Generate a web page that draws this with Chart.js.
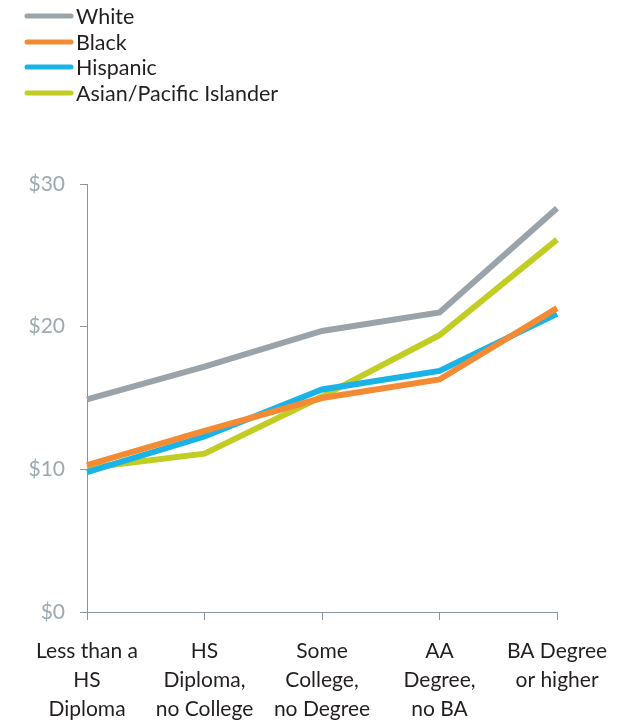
<!DOCTYPE html>
<html>
<head>
<meta charset="utf-8">
<script src="https://cdn.jsdelivr.net/npm/chart.js@4"></script>
<style>
  html, body { margin: 0; padding: 0; background: #ffffff; }
  #wrap { width: 630px; height: 720px; position: relative; }
</style>
</head>
<body>
<div id="wrap"><canvas id="chart" width="630" height="720"></canvas></div>
<script>
// Median hourly wage by education level and race/ethnicity
const categories = [
  ['Less than a', 'HS', 'Diploma'],
  ['HS', 'Diploma,', 'no College'],
  ['Some', 'College,', 'no Degree'],
  ['AA', 'Degree,', 'no BA'],
  ['BA Degree', 'or higher']
];
const seriesNames = ['White', 'Black', 'Hispanic', 'Asian/Pacific Islander'];
const white    = [14.9, 17.2, 19.7, 21.0, 28.3];
const black    = [10.3, 12.7, 15.0, 16.3, 21.3];
const hispanic = [9.8, 12.3, 15.6, 16.9, 20.9];
const asian    = [10.1, 11.1, 15.1, 19.4, 26.1];
const yTicks = [0, 10, 20, 30];

const colors = ['#9aa3aa', '#f58a34', '#1ab3e8', '#c2cd23'];
const FONT = 'Lato, "Open Sans", sans-serif';

const seriesValues = [white, black, hispanic, asian];
const datasets = seriesNames.map((name, i) => ({
  label: name,
  data: seriesValues[i],
  borderColor: colors[i],
  backgroundColor: colors[i],
  borderWidth: 6,
  pointRadius: 0,
  pointHoverRadius: 0,
  tension: 0,
  fill: false
}));

// Stacked legend in the top-left corner: one row per series
const stackedLegend = {
  id: 'stackedLegend',
  afterDraw(chart) {
    const ctx = chart.ctx;
    const rows = [16, 42, 67, 93];
    ctx.save();
    chart.data.datasets.forEach((ds, i) => {
      const y = rows[i];
      ctx.beginPath();
      ctx.strokeStyle = ds.borderColor;
      ctx.lineWidth = 5;
      ctx.lineCap = 'round';
      ctx.moveTo(27, y);
      ctx.lineTo(71, y);
      ctx.stroke();
      ctx.fillStyle = '#231f20';
      ctx.font = '21.5px ' + FONT;
      ctx.textBaseline = 'middle';
      ctx.textAlign = 'left';
      ctx.fillText(ds.label, 76, y + 1);
    });
    ctx.restore();
  }
};

new Chart(document.getElementById('chart'), {
  type: 'line',
  data: { labels: categories, datasets },
  plugins: [stackedLegend],
  options: {
    responsive: false,
    animation: false,
    devicePixelRatio: 1,
    layout: { padding: { top: 184, right: 73, left: 0, bottom: 0 } },
    plugins: {
      legend: { display: false },
      tooltip: { enabled: false }
    },
    scales: {
      x: {
        offset: false,
        afterFit(scale) { scale.height = 108; },
        grid: {
          display: true,
          drawOnChartArea: false,
          drawTicks: true,
          tickLength: 8,
          color: '#8c96a0',
          lineWidth: 1
        },
        border: { display: true, color: '#8c96a0', width: 1 },
        ticks: {
          color: '#231f20',
          font: { family: FONT, size: 21, lineHeight: 1.38 },
          padding: 17,
          maxRotation: 0,
          autoSkip: false
        }
      },
      y: {
        min: 0,
        max: 30,
        afterFit(scale) { scale.width = 87; },
        afterBuildTicks(scale) { scale.ticks = yTicks.map(v => ({ value: v })); },
        grid: {
          display: true,
          drawOnChartArea: false,
          drawTicks: true,
          tickLength: 7,
          color: '#8c96a0',
          lineWidth: 1
        },
        border: { display: true, color: '#8c96a0', width: 1 },
        ticks: {
          color: '#9ea8b1',
          font: { family: FONT, size: 21 },
          padding: 15,
          callback: v => '$' + v
        }
      }
    }
  }
});
</script>
</body>
</html>
